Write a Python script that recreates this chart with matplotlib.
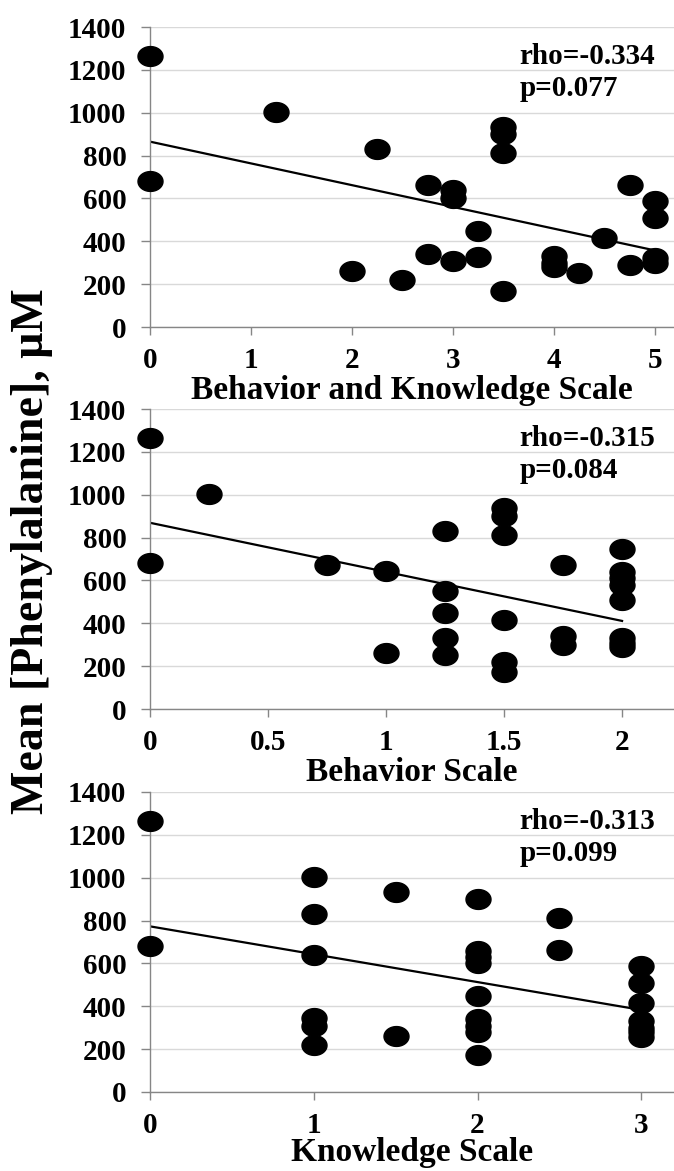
import numpy as np
import matplotlib
matplotlib.use('Agg')
import matplotlib.pyplot as plt
from matplotlib.path import Path

plt.rcParams['font.family'] = ['Liberation Serif', 'DejaVu Serif']
plt.rcParams['font.weight'] = 'bold'

# Behavior and Knowledge Scale panel
bk_x = [0, 0, 1.25, 2, 2.25, 2.5, 2.75, 2.75, 3, 3, 3, 3.25, 3.25,
        3.5, 3.5, 3.5, 3.5, 4, 4, 4, 4.25, 4.5, 4.75, 4.75, 5, 5, 5, 5]
bk_y = [1265, 680, 1005, 260, 830, 220, 665, 340, 640, 600, 310, 450, 325,
        935, 900, 810, 170, 330, 300, 280, 250, 415, 665, 290, 590, 510, 320, 300]

# Behavior Scale panel
b_x = [0, 0, 0.25, 0.75, 1, 1, 1.25, 1.25, 1.25, 1.25, 1.25,
       1.5, 1.5, 1.5, 1.5, 1.5, 1.5, 1.75, 1.75, 1.75,
       2, 2, 2, 2, 2, 2, 2, 2]
b_y = [1265, 680, 1005, 670, 645, 260, 830, 550, 450, 330, 250,
       940, 900, 810, 415, 220, 175, 670, 340, 300,
       745, 640, 610, 580, 510, 330, 310, 290]

# Knowledge Scale panel
k_x = [0, 0, 1, 1, 1, 1, 1, 1, 1.5, 1.5,
       2, 2, 2, 2, 2, 2, 2, 2, 2, 2.5, 2.5,
       3, 3, 3, 3, 3, 3, 3]
k_y = [1265, 680, 1005, 830, 640, 345, 310, 220, 935, 260,
       900, 660, 630, 600, 450, 340, 310, 280, 175, 810, 665,
       590, 510, 415, 330, 300, 280, 255]

# trend lines as drawn in the source (intercept, slope)
trend_intercept = [865, 869, 773]
trend_slope = [-101.5, -229, -130]

panels = [
    (bk_x, bk_y, 'Behavior and Knowledge Scale', [0, 1, 2, 3, 4, 5], ['0', '1', '2', '3', '4', '5'], 5.19, 'rho=-0.334', 'p=0.077'),
    (b_x, b_y, 'Behavior Scale', [0, 0.5, 1, 1.5, 2], ['0', '0.5', '1', '1.5', '2'], 2.22, 'rho=-0.315', 'p=0.084'),
    (k_x, k_y, 'Knowledge Scale', [0, 1, 2, 3], ['0', '1', '2', '3'], 3.2, 'rho=-0.313', 'p=0.099'),
]

# slightly wide oval marker, like the source image
t = np.linspace(0, 2 * np.pi, 64)
oval = Path(np.column_stack([1.26 * np.cos(t), np.sin(t)]), closed=True)

fig = plt.figure(figsize=(6.74, 11.71), dpi=100)
tops = [27, 409, 792]
pads = [0.5, 0.5, -1.5]
axis_grey = '#868686'

for i, ((xs, ys, xlab, xt, xtl, xmax, rho, pv), top) in enumerate(zip(panels, tops)):
    ax = fig.add_axes([150 / 674, 1 - (top + 300) / 1171, 524 / 674, 300 / 1171])
    ax.set_xlim(0, xmax)
    ax.set_ylim(0, 1400)
    ax.set_yticks(range(0, 1401, 200))
    ax.set_xticks(xt)
    ax.set_xticklabels(xtl)
    ax.yaxis.grid(True, color='#d9d9d9', lw=1)
    ax.set_axisbelow(True)
    for s in ['top', 'right']:
        ax.spines[s].set_visible(False)
    for s in ['left', 'bottom']:
        ax.spines[s].set_color(axis_grey)
        ax.spines[s].set_linewidth(1)
    ax.tick_params(axis='y', length=6.5, width=1, color=axis_grey, pad=10.5, labelsize=21)
    ax.tick_params(axis='x', length=5.5, width=1, color=axis_grey, pad=9, labelsize=21)

    ax.scatter(xs, ys, s=18 ** 2, marker=oval, color='black', zorder=3, clip_on=False)

    xx = np.array([min(xs), max(xs)])
    ax.plot(xx, trend_intercept[i] + trend_slope[i] * xx, color='black', lw=1.6, zorder=2)

    ax.set_xlabel(xlab, fontsize=24, fontweight='bold', labelpad=pads[i])
    ax.text(0.705, 0.877, rho, transform=ax.transAxes, fontsize=21, fontweight='bold', va='baseline')
    ax.text(0.705, 0.770, pv, transform=ax.transAxes, fontsize=21, fontweight='bold', va='baseline')

fig.text(0.047, 0.529, 'Mean [Phenylalanine], \u03bcM', rotation=90, fontsize=33,
         fontweight='bold', ha='center', va='center')

plt.savefig('out.png', dpi=100)
